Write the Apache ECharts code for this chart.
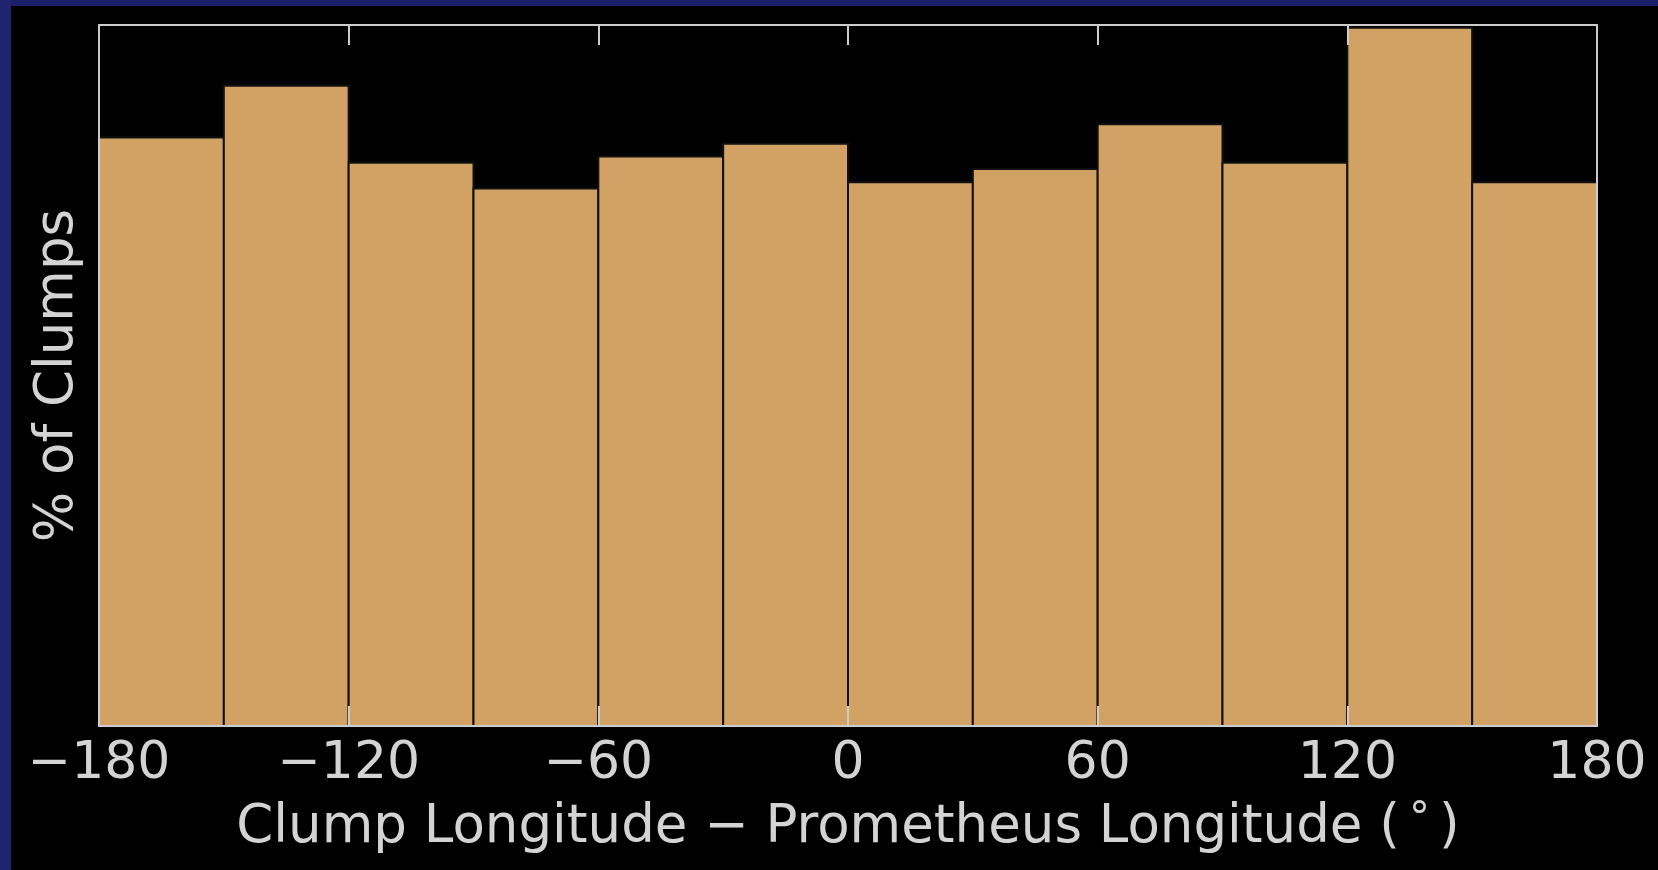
<!DOCTYPE html>
<html>
<head>
<meta charset="utf-8">
<script src="https://cdn.jsdelivr.net/npm/echarts@6/dist/echarts.min.js"></script>
<style>
html,body{margin:0;padding:0;background:#000;}
#wrap{position:relative;width:1658px;height:870px;background:#000;overflow:hidden;}
#chart{position:absolute;left:0;top:0;width:1658px;height:870px;}
#bandTop{position:absolute;left:0;top:0;width:1658px;height:6px;background:#1b1f69;}
#bandLeft{position:absolute;left:0;top:0;width:11px;height:870px;background:#20246f;}
</style>
</head>
<body>
<div id="wrap">
  <div id="chart"></div>
  <div id="bandTop"></div>
  <div id="bandLeft"></div>
</div>
<script>
// Histogram bin edges (degrees)
const binEdges = [-180, -150, -120, -90, -60, -30, 0, 30, 60, 90, 120, 150, 180];
// Percent of clumps in each bin
const percentClumps = [8.42, 9.16, 8.06, 7.69, 8.15, 8.33, 7.78, 7.97, 8.61, 8.06, 9.99, 7.78];
// Tick positions / labels
const xTickValues = [-180, -120, -60, 0, 60, 120, 180];
const xTickLabels = ['\u2212180', '\u2212120', '\u221260', '0', '60', '120', '180'];
const yMax = 10.03;

const xTitle = 'Clump Longitude \u2212 Prometheus Longitude (';
const yTitle = '% of Clumps';

const histData = percentClumps.map((v, i) => [binEdges[i], binEdges[i + 1], v]);

const font = 'DejaVu Sans';
const txtColor = '#d3d3d3';
const spineColor = '#cccccc';

const chart = echarts.init(document.getElementById('chart'), null, {renderer: 'canvas'});

function labelFor(v) {
  const i = xTickValues.indexOf(v);
  return i >= 0 ? xTickLabels[i] : '';
}

const option = {
  backgroundColor: '#000',
  animation: false,
  grid: {left: 99, top: 25, right: 61, bottom: 144, containLabel: false},
  xAxis: [
    {
      type: 'value', min: -180, max: 180, interval: 60, position: 'bottom', z: 10,
      axisLine: {show: true, onZero: false, lineStyle: {color: spineColor, width: 2}},
      axisTick: {show: true, inside: true, length: 20, lineStyle: {color: spineColor, width: 2}},
      splitLine: {show: false},
      axisLabel: {
        show: true, margin: 12, color: txtColor, fontFamily: font, fontSize: 52,
        formatter: v => labelFor(v)
      },
      name: '{a|' + xTitle + '}{s|\u00b0}{a|)}',
      nameLocation: 'middle',
      nameGap: 74,
      nameTextStyle: {
        rich: {
          a: {color: txtColor, fontFamily: font, fontSize: 53},
          s: {color: txtColor, fontFamily: font, fontSize: 42, padding: [0, 9, 14, 9]}
        }
      }
    },
    {
      type: 'value', min: -180, max: 180, interval: 60, position: 'top', z: 10,
      axisLine: {show: true, onZero: false, lineStyle: {color: spineColor, width: 2}},
      axisTick: {show: true, inside: true, length: 20, lineStyle: {color: spineColor, width: 2}},
      splitLine: {show: false},
      axisLabel: {show: false}
    }
  ],
  yAxis: [
    {
      type: 'value', min: 0, max: yMax, position: 'left', z: 10,
      axisLine: {show: true, onZero: false, lineStyle: {color: spineColor, width: 2}},
      axisTick: {show: false},
      splitLine: {show: false},
      axisLabel: {show: false},
      name: yTitle,
      nameLocation: 'middle',
      nameGap: 14,
      nameTextStyle: {color: txtColor, fontFamily: font, fontSize: 53}
    },
    {
      type: 'value', min: 0, max: yMax, position: 'right', z: 10,
      axisLine: {show: true, onZero: false, lineStyle: {color: spineColor, width: 2}},
      axisTick: {show: false},
      splitLine: {show: false},
      axisLabel: {show: false}
    }
  ],
  series: [
    {
      type: 'custom',
      xAxisIndex: 0,
      yAxisIndex: 0,
      z: 2,
      data: histData,
      encode: {x: [0, 1], y: 2},
      renderItem: function (params, api) {
        const x0 = api.value(0), x1 = api.value(1), y = api.value(2);
        const pTop = api.coord([x0, y]);
        const pBot = api.coord([x1, 0]);
        return {
          type: 'rect',
          shape: {x: pTop[0], y: pTop[1], width: pBot[0] - pTop[0], height: pBot[1] - pTop[1]},
          style: {fill: '#d2a265', stroke: '#111', lineWidth: 2}
        };
      }
    }
  ]
};
chart.setOption(option);
</script>
</body>
</html>
